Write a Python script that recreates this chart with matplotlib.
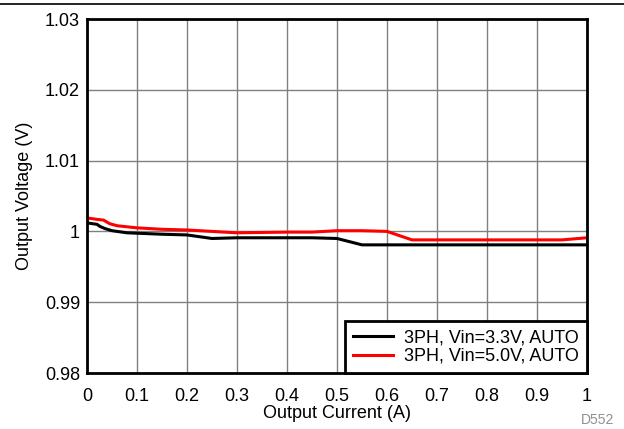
import matplotlib
matplotlib.use("Agg")
import matplotlib.pyplot as plt

plt.rcParams["font.family"] = ["Liberation Sans", "DejaVu Sans"]

# Data
current_33 = [0.0, 0.02, 0.026, 0.036, 0.05, 0.08, 0.15, 0.2, 0.25, 0.3, 0.4, 0.45, 0.5, 0.55, 0.6, 0.7, 0.8, 0.9, 1.0]
vout_33 = [1.0012, 1.0010, 1.0007, 1.0004, 1.0001, 0.9998, 0.9996, 0.9995, 0.9990, 0.9991, 0.9991, 0.9991, 0.9990, 0.9981, 0.9981, 0.9981, 0.9981, 0.9981, 0.9981]

current_50 = [0.0, 0.02, 0.033, 0.045, 0.06, 0.1, 0.15, 0.2, 0.3, 0.4, 0.45, 0.5, 0.55, 0.6, 0.65, 0.7, 0.8, 0.9, 0.95, 1.0]
vout_50 = [1.0019, 1.0017, 1.0016, 1.0011, 1.0008, 1.0005, 1.0003, 1.0002, 0.9998, 0.9999, 0.9999, 1.0001, 1.0001, 1.0000, 0.9988, 0.9988, 0.9988, 0.9988, 0.9988, 0.9991]

x_ticks = [0, 0.1, 0.2, 0.3, 0.4, 0.5, 0.6, 0.7, 0.8, 0.9, 1]
x_labels = ["0", "0.1", "0.2", "0.3", "0.4", "0.5", "0.6", "0.7", "0.8", "0.9", "1"]
y_ticks = [0.98, 0.99, 1.0, 1.01, 1.02, 1.03]
y_labels = ["0.98", "0.99", "1", "1.01", "1.02", "1.03"]

fs = 13

fig = plt.figure(figsize=(6.24, 4.29), dpi=100)
ax = fig.add_axes([87 / 624, 1 - 373 / 429, 500 / 624, 354 / 429])

ax.plot(current_33, vout_33, color="black", lw=2.2, label="3PH, Vin=3.3V, AUTO", zorder=3)
ax.plot(current_50, vout_50, color="#ff0000", lw=2.2, label="3PH, Vin=5.0V, AUTO", zorder=3)

ax.set_xlim(0, 1)
ax.set_ylim(0.98, 1.03)
ax.set_xticks(x_ticks)
ax.set_xticklabels(x_labels)
ax.set_yticks(y_ticks)
ax.set_yticklabels(y_labels)
ax.tick_params(length=0, labelsize=fs)
ax.tick_params(axis="x", pad=11)
ax.tick_params(axis="y", pad=5)
ax.grid(True, color="#808080", lw=1)
ax.set_axisbelow(True)
for s in ax.spines.values():
    s.set_linewidth(2)
    s.set_zorder(4)

ax.set_xlabel("Output Current (A)", fontsize=fs, labelpad=0)
ax.set_ylabel("Output Voltage (V)", fontsize=fs, labelpad=8.5)

leg = ax.legend(loc="lower right", fontsize=fs, frameon=True, fancybox=False,
                borderaxespad=0, handlelength=2.2, handletextpad=0.6,
                borderpad=0.45, labelspacing=0.1)
leg.get_frame().set_edgecolor("black")
leg.get_frame().set_linewidth(2)
leg.get_frame().set_alpha(1)

# top rule and figure id
fig.add_artist(plt.Line2D([0, 1], [1 - 4 / 429, 1 - 4 / 429], color="black", lw=1.2))
fig.text(614 / 624, 1 - 420 / 429, "D552", color="#909090", fontsize=10, ha="right", va="center")

fig.savefig("out.png", dpi=100)
